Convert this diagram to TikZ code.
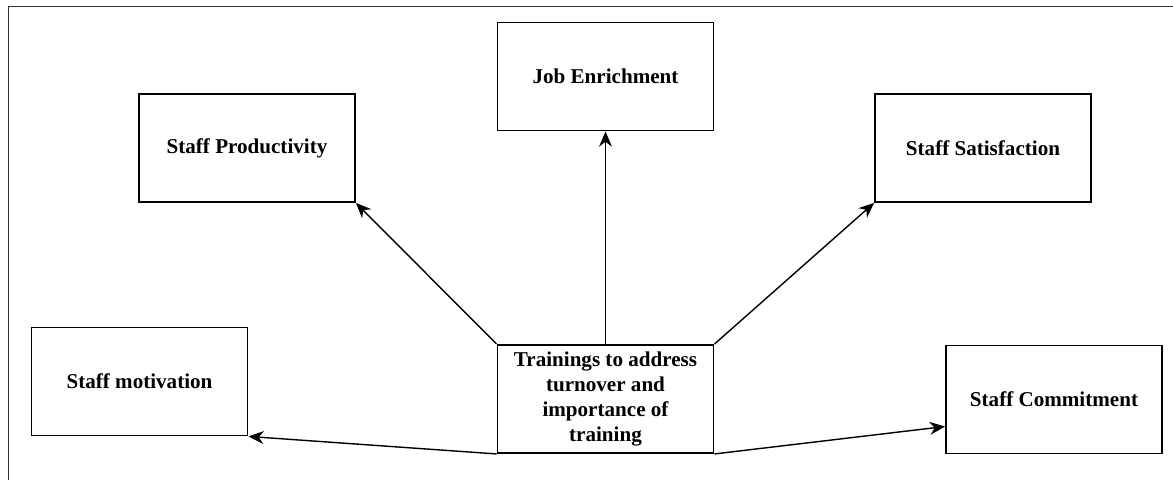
\documentclass[tikz,border=0pt]{standalone}
\usepackage{fontspec}
\setmainfont{Liberation Serif}
\usetikzlibrary{arrows.meta}

\begin{document}
\begin{tikzpicture}[x=0.03cm,y=-0.03cm,->,>={Stealth[length=13pt,width=11pt]},line width=1.2pt,
    box/.style={draw,line width=1.6pt,minimum width=6.48cm,minimum height=3.24cm,inner sep=0pt,align=center,font=\fontsize{18}{21.5}\selectfont\bfseries}]
            \useasboundingbox (0,0) rectangle (1173,480);
            \draw[-,line width=0.8pt,black!80] (8,480) -- (8,6) -- (1173,6);

            \node[box] (job) at (605.5,76.5) {Job Enrichment};
            \node[box] (prod) at (247,148) {Staff Productivity};
            \node[box] (sat) at (983,148) {Staff Satisfaction};
            \node[box] (motiv) at (139.5,381.5) {Staff motivation};
            \node[box] (train) at (605.5,399) {Trainings to address\\turnover and\\importance of\\training};
            \node[box] (commit) at (1054,399.5) {Staff Commitment};

            \path
                (train.south west) edge (motiv.south east)
                (train.north west) edge (prod.south east)
                (train.north) edge (job.south)
                (train.north east) edge (sat.south west)
                (train.south east) edge ([yshift=-0.81cm]commit.west)
                ;
        \end{tikzpicture}
\end{document}
